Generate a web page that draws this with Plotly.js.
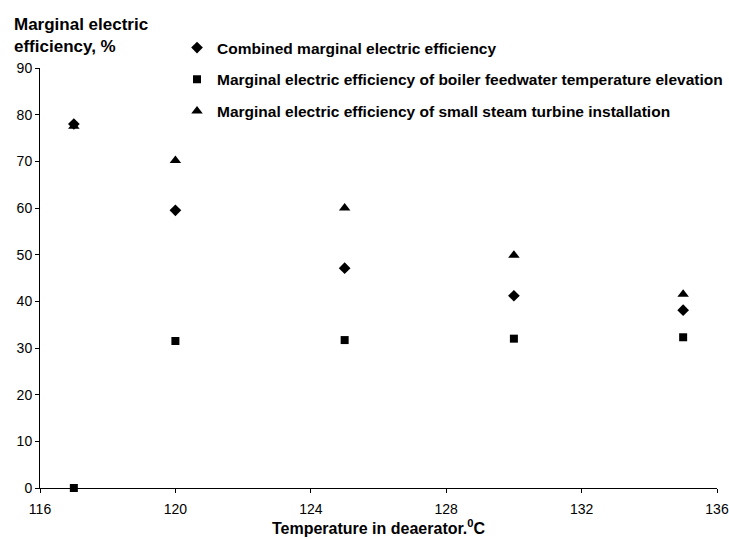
<!DOCTYPE html>
<html><head><meta charset="utf-8">
<script src="https://cdn.plot.ly/plotly-3.0.1.min.js"></script>
<style>html,body{margin:0;padding:0;background:#fff}</style>
</head><body>
<div id="chart" style="width:729px;height:539px"></div>
<script>
const temperatures = [117, 120, 125, 130, 135];
const combinedEff = [78.0, 59.5, 47.1, 41.2, 38.1];
const boilerEff = [0, 31.5, 31.7, 32.0, 32.3];
const turbineEff = [77.5, 70.2, 60.0, 49.9, 41.5];
const seriesNames = [
  "Combined marginal electric efficiency",
  "Marginal electric efficiency of boiler feedwater temperature elevation",
  "Marginal electric efficiency of small steam turbine installation"
];
const xTicks = [116, 120, 124, 128, 132, 136];
const yTicks = [0, 10, 20, 30, 40, 50, 60, 70, 80, 90];

const fontFam = "Liberation Sans, Arial, sans-serif";
function tr(y, name, sym, size, grp) {
  return {x: temperatures, y: y, name: name, type: "scatter", mode: "markers",
    marker: {symbol: sym, size: size, color: "#000"}, cliponaxis: false, legendgroup: grp};
}
const data = [
  tr(combinedEff, seriesNames[0], "diamond", 9, "a"),
  tr(boilerEff, seriesNames[1], "square", 8, "b"),
  tr(turbineEff, seriesNames[2], "triangle-up", 10, "c")
];
const layout = {
  width: 729, height: 539,
  margin: {l: 40, r: 12, t: 68, b: 51, autoexpand: false},
  paper_bgcolor: "#fff", plot_bgcolor: "#fff",
  font: {family: fontFam, color: "#000", size: 14},
  showlegend: true,
  legend: {x: 0.2024, xanchor: "left", y: 1.088, yanchor: "top",
    font: {family: fontFam, size: 15.5, color: "#000", weight: "bold"},
    tracegroupgap: 8.5, bgcolor: "rgba(0,0,0,0)", itemwidth: 30},
  xaxis: {range: [116, 136], tickvals: xTicks, ticktext: xTicks.map(String),
    showgrid: false, zeroline: false, showline: true, linecolor: "#000", linewidth: 1,
    ticks: "outside", ticklen: 4, tickcolor: "#000", ticklabelstandoff: 4,
    tickfont: {size: 14, family: fontFam},
    title: {text: "Temperature in deaerator.<sup>0</sup>C", font: {size: 16, family: fontFam, weight: "bold"}, standoff: 2}},
  yaxis: {range: [0, 90], tickvals: yTicks, ticktext: yTicks.map(String),
    showgrid: false, zeroline: false, showline: true, linecolor: "#000", linewidth: 1,
    ticks: "outside", ticklen: 4, tickcolor: "#000",
    tickfont: {size: 14, family: fontFam}},
  annotations: [{
    text: "Marginal electric<br>efficiency, %", xref: "paper", yref: "paper",
    x: -0.041, y: 1.0 + 55/420, xanchor: "left", yanchor: "top", showarrow: false, align: "left",
    font: {size: 17, family: fontFam, weight: "bold"}
  }]
};
Plotly.newPlot("chart", data, layout, {displayModeBar: false, staticPlot: true});
</script>
</body></html>
